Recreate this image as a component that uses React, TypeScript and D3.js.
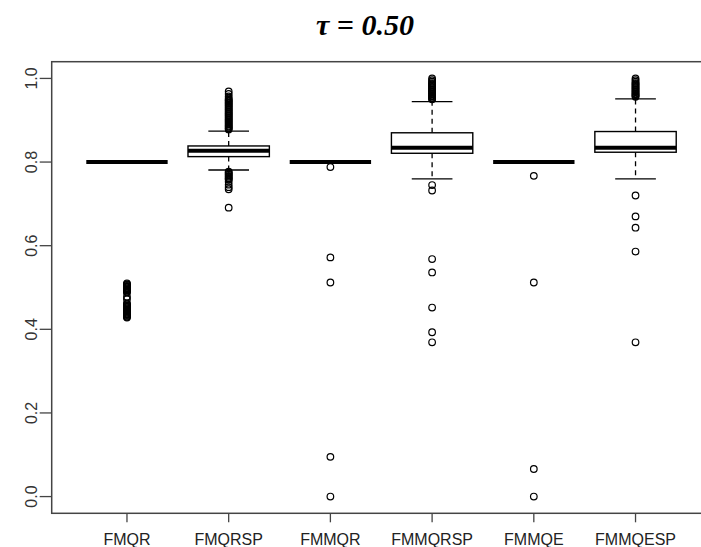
import React from "react";
import * as d3 from "d3";

const categories = ["FMQR", "FMQRSP", "FMMQR", "FMMQRSP", "FMMQE", "FMMQESP"];
const q1 = [0.8, 0.813, 0.8, 0.821, 0.8, 0.8235];
const median = [0.8, 0.827, 0.8, 0.8345, 0.8, 0.8345];
const q3 = [0.8, 0.8385, 0.8, 0.87, 0.8, 0.873];
const lowerWhisker = [0.8, 0.781, 0.8, 0.76, 0.8, 0.76];
const upperWhisker = [0.8, 0.874, 0.8, 0.9445, 0.8, 0.951];

const outFMQR = [
  0.428, 0.43, 0.432, 0.434, 0.436, 0.438, 0.44, 0.442, 0.444, 0.446, 0.448, 0.45,
  0.452, 0.454, 0.456, 0.458, 0.46, 0.462, 0.472, 0.478, 0.488, 0.49, 0.492, 0.494,
  0.496, 0.498, 0.5, 0.502, 0.504, 0.506, 0.508, 0.51,
];
const outFMQRSP = [
  0.969, 0.963, 0.957, 0.952, 0.949, 0.947, 0.945, 0.942, 0.94, 0.937, 0.935, 0.932,
  0.93, 0.927, 0.925, 0.922, 0.92, 0.917, 0.915, 0.912, 0.91, 0.907, 0.905, 0.902,
  0.9, 0.897, 0.895, 0.892, 0.89, 0.887, 0.885, 0.882, 0.88, 0.878,
  0.777, 0.775, 0.772, 0.77, 0.767, 0.765, 0.762, 0.76, 0.758, 0.753, 0.746, 0.74,
  0.735, 0.691,
];
const outFMMQR = [0.788, 0.572, 0.512, 0.095, 0.0];
const outFMMQRSP = [
  1.0, 0.996, 0.992, 0.989, 0.987, 0.984, 0.982, 0.979, 0.977, 0.974, 0.972, 0.969,
  0.967, 0.964, 0.962, 0.959, 0.957, 0.954, 0.952, 0.95,
  0.745, 0.732, 0.568, 0.536, 0.452, 0.393, 0.369,
];
const outFMMQE = [0.767, 0.512, 0.066, 0.0];
const outFMMQESP = [
  1.0, 0.996, 0.992, 0.989, 0.987, 0.984, 0.982, 0.979, 0.977, 0.974, 0.972, 0.969,
  0.967, 0.964, 0.962, 0.96, 0.958, 0.956,
  0.72, 0.67, 0.643, 0.586, 0.369,
];
const outliers = [outFMQR, outFMQRSP, outFMMQR, outFMMQRSP, outFMMQE, outFMMQESP];
const yTicks = [0.0, 0.2, 0.4, 0.6, 0.8, 1.0];
const title = "τ = 0.50";

const W = 701;
const H = 547;
const plotLeft = 51.7;
const plotRight = 710.8;
const plotTop = 61.7;
const plotBottom = 513.3;

export default function App() {
  const x = d3.scaleLinear().domain([0.26, 6.74]).range([plotLeft, plotRight]);
  const y = d3.scaleLinear().domain([-0.04, 1.04]).range([plotBottom, plotTop]);
  const step = x(2) - x(1);
  const boxW = step * 0.8;
  const capW = boxW * 0.5;
  const axisColor = "#444";
  const font = "'Liberation Sans', Arial, sans-serif";

  return (
    <div style={{ position: "absolute", left: 0, top: 0, width: W, height: H, overflow: "hidden" }}>
      <svg width={W} height={H} style={{ display: "block", overflow: "hidden", background: "#fff" }}>
        <rect x={0} y={0} width={W} height={H} fill="#fff" />
        <text
          x={365}
          y={35}
          textAnchor="middle"
          fontFamily="'Liberation Serif', 'Times New Roman', serif"
          fontWeight="bold"
          fontStyle="italic"
          fontSize={30}
          fill="#000"
        >
          {title}
        </text>

        <rect
          x={plotLeft}
          y={plotTop}
          width={plotRight - plotLeft}
          height={plotBottom - plotTop}
          fill="none"
          stroke={axisColor}
          strokeWidth={1.5}
        />

        {yTicks.map((t) => (
          <g key={"y" + t}>
            <line x1={plotLeft - 12} x2={plotLeft} y1={y(t)} y2={y(t)} stroke={axisColor} strokeWidth={1.3} />
            <text
              transform={`translate(37,${y(t)}) rotate(-90)`}
              textAnchor="middle"
              fontFamily={font}
              fontSize={16}
              fill="#333"
            >
              {t.toFixed(1)}
            </text>
          </g>
        ))}

        {categories.map((c, i) => (
          <g key={c}>
            <line x1={x(i + 1)} x2={x(i + 1)} y1={plotBottom} y2={plotBottom + 9} stroke={axisColor} strokeWidth={1.3} />
            <text x={x(i + 1)} y={545} textAnchor="middle" fontFamily={font} fontSize={16} fill="#222">
              {c}
            </text>
          </g>
        ))}

        {categories.map((c, i) => {
          const cx = x(i + 1);
          return (
            <g key={"b" + c}>
              <line x1={cx} x2={cx} y1={y(q3[i])} y2={y(upperWhisker[i])} stroke="#000" strokeWidth={1.3} strokeDasharray="5,4" />
              <line x1={cx} x2={cx} y1={y(q1[i])} y2={y(lowerWhisker[i])} stroke="#000" strokeWidth={1.3} strokeDasharray="5,4" />
              <line x1={cx - capW / 2} x2={cx + capW / 2} y1={y(upperWhisker[i])} y2={y(upperWhisker[i])} stroke="#000" strokeWidth={1.3} />
              <line x1={cx - capW / 2} x2={cx + capW / 2} y1={y(lowerWhisker[i])} y2={y(lowerWhisker[i])} stroke="#000" strokeWidth={1.3} />
              <rect
                x={cx - boxW / 2}
                y={y(q3[i])}
                width={boxW}
                height={y(q1[i]) - y(q3[i])}
                fill="#fff"
                stroke="#000"
                strokeWidth={1.4}
              />
              <line x1={cx - boxW / 2} x2={cx + boxW / 2} y1={y(median[i])} y2={y(median[i])} stroke="#000" strokeWidth={4} />
              {outliers[i].map((v, j) => (
                <circle key={j} cx={cx} cy={y(v)} r={3.3} fill="none" stroke="#000" strokeWidth={1.2} />
              ))}
            </g>
          );
        })}
      </svg>
    </div>
  );
}
